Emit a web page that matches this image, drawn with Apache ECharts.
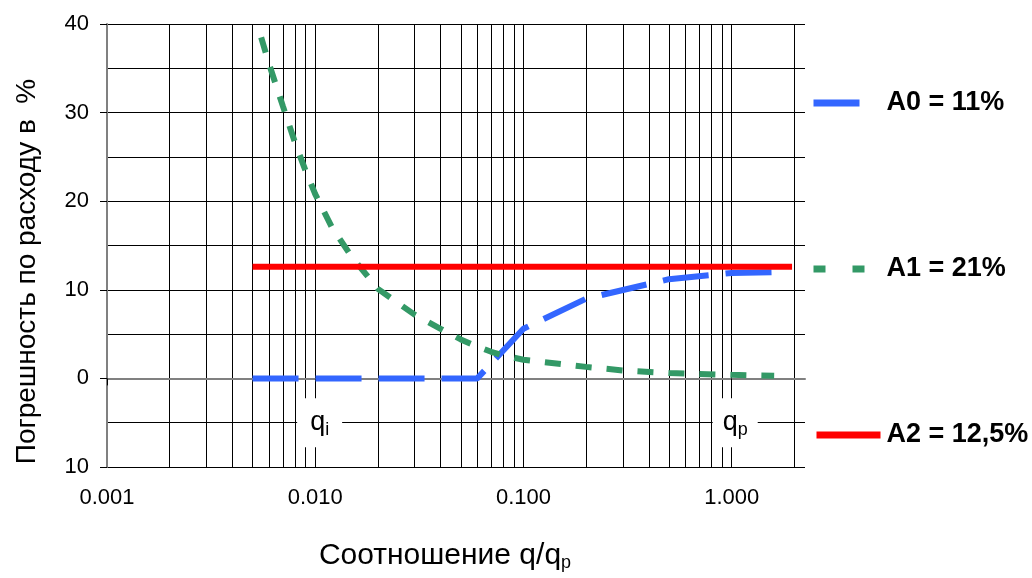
<!DOCTYPE html>
<html>
<head>
<meta charset="utf-8">
<script src="https://cdn.jsdelivr.net/npm/echarts@6/dist/echarts.min.js"></script>
<style>
html, body { margin: 0; padding: 0; background: #fff; }
#chart { width: 1032px; height: 578px; }
</style>
</head>
<body>
<div id="chart"></div>
<script>
var FONT = 'Arial, "Liberation Sans", sans-serif';

// A0 (синяя штриховая)
var a0Ratio = [0.005, 0.06, 0.1, 0.2, 0.5, 1.0, 1.6];
var a0Error = [0, 0, 5.6, 9.0, 11.2, 11.9, 12.0];
// A1 (зелёная пунктирная)
var a1Ratio = [0.0055, 0.006, 0.007, 0.008, 0.009, 0.01, 0.012, 0.015, 0.02, 0.03, 0.04,
               0.05, 0.06, 0.07, 0.08, 0.1, 0.2, 0.3, 0.5, 1.0, 1.6];
var a1Error = [38.5, 35.5, 30.7, 26.6, 23.4, 20.8, 17.1, 13.7, 10.1, 7.2, 5.6,
               4.4, 3.6, 3.0, 2.6, 2.1, 1.3, 0.9, 0.6, 0.4, 0.3];
// A2 (красная сплошная)
var a2Ratio = [0.005, 1.95];
var a2Error = [12.6, 12.6];

var seriesNames = ['A0 = 11%', 'A1 = 21%', 'A2 = 12,5%'];
var xDecades = [0.001, 0.01, 0.1, 1];
var markNames = ['i', 'p'];
var markRatio = [0.0105, 1.04];
var markError = [-5, -5];

// вертикальная сетка 2..9 в каждой декаде
var gridX = [];
for (var d = 0; d < xDecades.length; d++) {
    for (var k = 1; k <= 9; k++) {
        var v = +(k * xDecades[d]).toPrecision(3);
        if (v > 0.001 && v <= 2) gridX.push(v);
    }
}

function pairs(xs, ys) {
    return xs.map(function (x, i) { return [x, ys[i]]; });
}

var chart = echarts.init(document.getElementById('chart'));

// по легенде на каждую линию (у них разная длина значка)
function legendFor(name, left, top, width, padLeft, lineType) {
    return {
        data: [name],
        left: left,
        top: top,
        orient: 'horizontal',
        padding: 0,
        selectedMode: false,
        itemWidth: width,
        itemHeight: 8,
        itemStyle: { opacity: 0 },   // прячем кружок в середине значка
        lineStyle: { width: 7, type: lineType },
        textStyle: {
            fontFamily: FONT, fontSize: 27, fontWeight: 'bold', color: '#000',
            lineHeight: 30, padding: [0, 0, 0, padLeft]
        }
    };
}

var option = {
    animation: false,
    backgroundColor: '#fff',
    textStyle: { fontFamily: FONT },
    grid: { left: 107, right: 227, top: 24, bottom: 111 },
    legend: [
        legendFor(seriesNames[0], 810, 88, 46, 22, 'solid'),
        legendFor(seriesNames[1], 810, 254, 52, 16, [12, 27]),
        legendFor(seriesNames[2], 813, 420, 64, 1, 'solid')
    ],
    xAxis: [{
        type: 'log',
        logBase: 10,
        min: 0.001,
        max: 2.25,
        name: 'Соотношение q/q{s|p}',
        nameLocation: 'middle',
        nameGap: 72,
        nameTextStyle: {
            fontFamily: FONT, fontSize: 30, color: '#000', padding: [0, 22, 0, 0],
            rich: { s: { fontFamily: FONT, fontSize: 18, color: '#000', padding: [15, 0, 0, 0] } }
        },
        axisLine: { show: true, lineStyle: { color: '#808080', width: 2 } },
        axisTick: { show: true, length: 7, lineStyle: { color: '#000' }, customValues: xDecades },
        axisLabel: {
            fontSize: 22, color: '#000', margin: 20, customValues: xDecades,
            formatter: function (v) { return v.toFixed(3); }
        },
        splitLine: { show: false }
    }, {
        // только вертикальная сетка
        type: 'log',
        logBase: 10,
        min: 0.001,
        max: 2.25,
        position: 'bottom',
        axisLine: { show: false },
        axisLabel: { show: false },
        axisTick: { show: false, customValues: gridX },
        splitLine: { show: true, lineStyle: { color: '#000', width: 1 } }
    }],
    yAxis: {
        type: 'value',
        min: -10,
        max: 40,
        interval: 10,
        name: 'Погрешность по расходу в  %',
        nameLocation: 'middle',
        nameGap: 66,
        nameTextStyle: { fontFamily: FONT, fontSize: 28, color: '#000', padding: [0, 52, 0, 0] },
        axisLine: { show: true, lineStyle: { color: '#808080', width: 2 } },
        axisTick: { show: true, length: 7, lineStyle: { color: '#000' } },
        axisLabel: {
            fontSize: 22, color: '#000', margin: 18,
            formatter: function (v) { return String(Math.abs(v)); }
        },
        splitLine: { show: true, lineStyle: { color: '#000', width: 1 } },
        minorTick: { show: false, splitNumber: 2 },
        minorSplitLine: { show: true, lineStyle: { color: '#000', width: 1 } }
    },
    series: [
        {
            name: seriesNames[0],
            type: 'line',
            symbol: 'none',
            z: 3,
            lineStyle: { color: '#3366FF', width: 6, type: [46, 17], cap: 'butt' },
            itemStyle: { color: '#3366FF' },
            data: pairs(a0Ratio, a0Error)
        },
        {
            name: seriesNames[1],
            type: 'line',
            symbol: 'none',
            z: 3,
            lineStyle: { color: '#339966', width: 6, type: [16, 15], cap: 'butt' },
            itemStyle: { color: '#339966' },
            data: pairs(a1Ratio, a1Error)
        },
        {
            name: seriesNames[2],
            type: 'line',
            symbol: 'none',
            z: 4,
            lineStyle: { color: '#FF0000', width: 6, type: 'solid' },
            itemStyle: { color: '#FF0000' },
            data: pairs(a2Ratio, a2Error),
            markPoint: {
                silent: true,
                symbol: 'rect',
                symbolSize: [45, 49],
                itemStyle: { color: '#fff' },
                label: {
                    show: true,
                    position: 'inside',
                    color: '#000',
                    fontFamily: FONT,
                    fontSize: 27,
                    formatter: function (p) { return 'q{s|' + p.name + '}'; },
                    rich: { s: { fontFamily: FONT, fontSize: 18, color: '#000', padding: [14, 0, 0, 0] } }
                },
                data: markNames.map(function (n, i) {
                    return { name: n, coord: [markRatio[i], markError[i]] };
                })
            }
        }
    ]
};

chart.setOption(option);
</script>
</body>
</html>
